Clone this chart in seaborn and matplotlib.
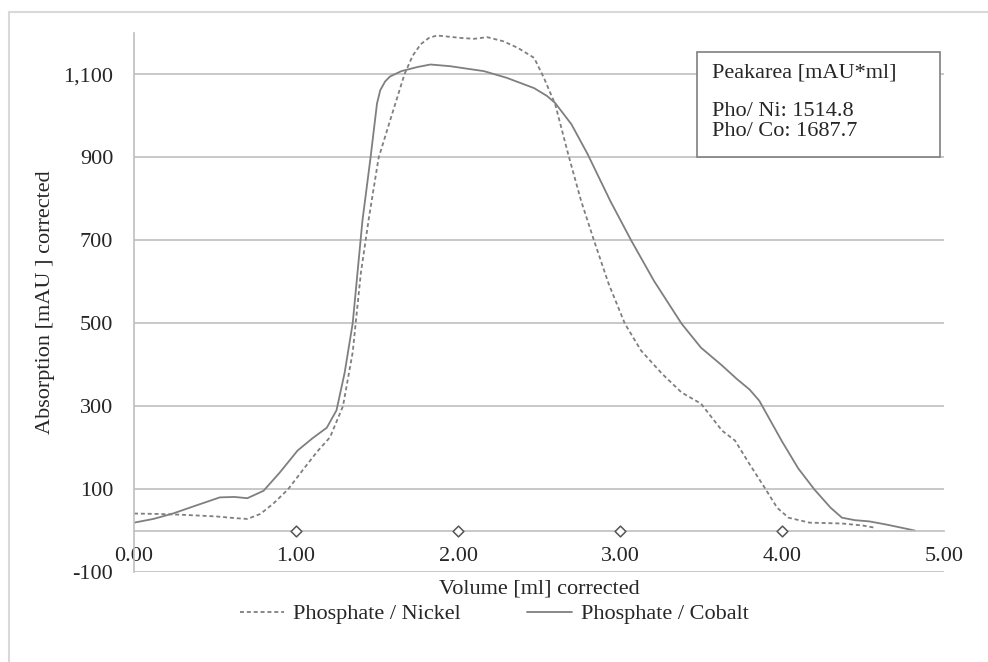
import seaborn as sns
import pandas as pd
import numpy as np
import matplotlib.pyplot as plt
from matplotlib.patches import Rectangle
from matplotlib.ticker import FuncFormatter

# values
cobalt_x = [0.00, 0.12, 0.24, 0.38, 0.53, 0.62, 0.70, 0.80, 0.90, 1.01, 1.10, 1.19, 1.25,
            1.30, 1.35, 1.41, 1.46, 1.50, 1.52, 1.55, 1.58, 1.65, 1.75, 1.83, 1.95, 2.16,
            2.30, 2.47, 2.55, 2.60, 2.70, 2.80, 2.94, 3.07, 3.21, 3.38, 3.50, 3.63, 3.72,
            3.80, 3.86, 4.00, 4.10, 4.20, 4.30, 4.37, 4.45, 4.54, 4.65, 4.82]
cobalt_y = [19, 28, 41, 60, 80, 81, 78, 96, 140, 193, 222, 248, 290,
            380, 500, 747, 899, 1030, 1062, 1083, 1095, 1108, 1118, 1124, 1120, 1108,
            1092, 1067, 1048, 1031, 980, 908, 795, 699, 602, 499, 441, 398, 366,
            340, 313, 215, 150, 99, 55, 31, 25, 22, 14, 0]

nickel_x = [0.00, 0.15, 0.30, 0.51, 0.62, 0.70, 0.78, 0.86, 0.95, 1.05, 1.13, 1.21, 1.29,
            1.35, 1.40, 1.45, 1.51, 1.58, 1.67, 1.72, 1.77, 1.82, 1.87, 2.02, 2.10, 2.18,
            2.28, 2.37, 2.47, 2.53, 2.60, 2.68, 2.76, 2.84, 2.93, 3.03, 3.13, 3.26, 3.38,
            3.50, 3.63, 3.71, 3.80, 3.90, 3.97, 4.04, 4.17, 4.37, 4.50, 4.57]
nickel_y = [41, 40, 38, 34, 30, 28, 40, 65, 99, 150, 190, 225, 300,
            430, 620, 754, 899, 988, 1101, 1145, 1173, 1188, 1194, 1188, 1186, 1190,
            1180, 1164, 1140, 1092, 1028, 908, 795, 699, 595, 499, 434, 378, 333,
            306, 241, 217, 160, 99, 55, 31, 19, 17, 12, 7]

marker_x = [1.0, 2.0, 3.0, 4.0]
marker_y = [0, 0, 0, 0]

series_names = ["Phosphate / Nickel", "Phosphate / Cobalt"]
y_ticks = [-100, 100, 300, 500, 700, 900, 1100]
x_ticks = [0, 1, 2, 3, 4, 5]

df = pd.DataFrame({
    "Volume": nickel_x + cobalt_x,
    "Absorption": nickel_y + cobalt_y,
    "Series": [series_names[0]] * len(nickel_x) + [series_names[1]] * len(cobalt_x),
})
markers = pd.DataFrame({"Volume": marker_x, "Absorption": marker_y})

sns.set_style("white")
plt.rcParams["font.family"] = ["Liberation Serif", "DejaVu Serif"]
plt.rcParams["font.size"] = 16

grid_col = "#bfbfbf"
line_col = "#7f7f7f"

fig = plt.figure(figsize=(9.88, 6.62), dpi=100)
ax = fig.add_axes([134 / 988, 1 - 572 / 662, 810 / 988, 539 / 662])

sns.lineplot(data=df, x="Volume", y="Absorption", style="Series", color=line_col,
             dashes={series_names[0]: (2.2, 1.6), series_names[1]: ""},
             linewidth=1.3, sort=False, estimator=None, ax=ax, legend=True)
sns.scatterplot(data=markers, x="Volume", y="Absorption", marker="D", s=30,
                facecolor="white", edgecolor="#555555", linewidth=1.1, ax=ax,
                zorder=5, legend=False)

ax.set_xlim(0, 5)
ax.set_ylim(-100, 1200)
ax.set_yticks(y_ticks)
ax.set_xticks(x_ticks)
ax.yaxis.set_major_formatter(FuncFormatter(lambda v, p: f"{v:,.0f}"))
ax.xaxis.set_major_formatter(FuncFormatter(lambda v, p: f"{v:.2f}"))
ax.grid(axis="y", color=grid_col, linewidth=1.2)
ax.set_axisbelow(True)

for s in ["top", "right"]:
    ax.spines[s].set_visible(False)
ax.spines["left"].set_color(grid_col)
ax.spines["left"].set_linewidth(1.2)
ax.spines["bottom"].set_position(("data", 0))
ax.spines["bottom"].set_color(grid_col)
ax.spines["bottom"].set_linewidth(1.2)
ax.tick_params(axis="x", length=0, pad=12, labelsize=16, colors="#262626")
ax.tick_params(axis="y", length=0, pad=15, labelsize=16, colors="#262626")

ax.set_xlabel("Volume [ml] corrected", fontsize=16)
ax.xaxis.label.set_va("center")
ax.xaxis.set_label_coords(0.5, -17 / 539)
ax.set_ylabel("Absorption [mAU ] corrected", fontsize=16)
ax.yaxis.label.set_va("center")
ax.yaxis.set_label_coords(-89 / 810, 0.5)

handles, labels = ax.get_legend_handles_labels()
ax.get_legend().remove()
fig.legend(handles, labels, loc="center", bbox_to_anchor=(0.5, 1 - 614 / 662),
           ncol=2, frameon=False, fontsize=16, handlelength=2.0,
           columnspacing=3.0, handletextpad=0.4)

# peak area box
fig.patches.append(Rectangle((697 / 988, 1 - 157 / 662), 243 / 988, 105 / 662,
                             transform=fig.transFigure, facecolor="white",
                             edgecolor="#7f7f7f", linewidth=1.2, zorder=3))
fig.text(712 / 988, 1 - 73 / 662, "Peakarea [mAU*ml]", va="center", ha="left", zorder=4)
fig.text(712 / 988, 1 - 111 / 662, "Pho/ Ni: 1514.8", va="center", ha="left", zorder=4)
fig.text(712 / 988, 1 - 131 / 662, "Pho/ Co: 1687.7", va="center", ha="left", zorder=4)

# outer chart frame (left and top edges visible)
fig.patches.append(Rectangle((9 / 988, -0.1), 1.2, 1 - 12 / 662 + 0.1,
                             transform=fig.transFigure, facecolor="none",
                             edgecolor="#d9d9d9", linewidth=1.5, zorder=0))

fig.savefig("out.png", dpi=100)
